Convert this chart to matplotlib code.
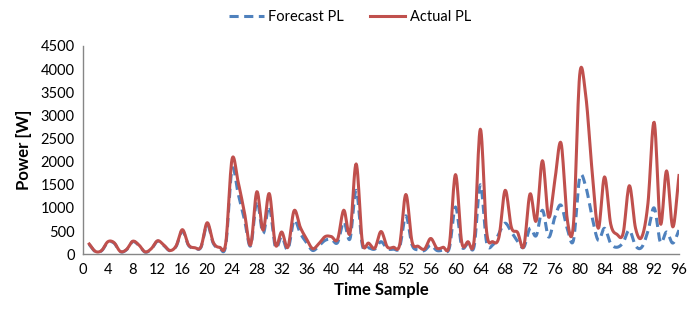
import matplotlib
matplotlib.use("Agg")
import matplotlib.pyplot as plt
import numpy as np

plt.rcParams['font.family'] = ['Lato', 'DejaVu Sans']

# time samples 1..96
samples = list(range(1, 97))

actual_pl = [220, 60, 80, 270, 250, 60, 100, 280, 200, 50,
             120, 290, 200, 80, 180, 530, 200, 140, 160, 680,
             250, 150, 250, 2050, 1550, 900, 200, 1350, 520, 1310,
             200, 480, 150, 940, 580, 330, 120, 230, 380, 380,
             320, 950, 450, 1950, 260, 240, 130, 490, 160, 150,
             200, 1290, 270, 170, 110, 340, 130, 150, 200, 1720,
             260, 270, 300, 2700, 500, 270, 370, 1380, 580, 470,
             170, 1300, 720, 2020, 800, 1600, 2400, 750, 650, 3870,
             3400, 1800, 560, 1670, 650, 430, 450, 1480, 560, 370,
             1100, 2850, 660, 1800, 590, 1700]

forecast_pl = [210, 55, 75, 260, 240, 55, 95, 270, 190, 45,
               110, 280, 190, 75, 170, 500, 190, 130, 150, 640,
               230, 130, 200, 1830, 1300, 750, 180, 1150, 450, 1030,
               150, 380, 100, 730, 450, 250, 80, 180, 300, 320,
               250, 700, 330, 1380, 190, 140, 110, 270, 120, 110,
               150, 830, 200, 90, 80, 200, 80, 90, 130, 1020,
               170, 230, 170, 1500, 260, 200, 450, 670, 480, 280,
               150, 560, 400, 950, 370, 800, 1060, 550, 300, 1650,
               1450, 800, 300, 560, 230, 150, 250, 520, 180, 150,
               500, 1000, 260, 480, 240, 520]

x_ticks = list(range(0, 97, 4))
y_ticks = list(range(0, 4501, 500))


def smooth(x, y, steps=12):
    # catmull-rom curve through the points, like excel "smoothed line"
    x = np.asarray(x, float)
    y = np.asarray(y, float)
    px = np.concatenate([[2 * x[0] - x[1]], x, [2 * x[-1] - x[-2]]])
    py = np.concatenate([[2 * y[0] - y[1]], y, [2 * y[-1] - y[-2]]])
    t = np.linspace(0, 1, steps, endpoint=False)
    xs, ys = [], []
    for i in range(1, len(px) - 2):
        for arr, out in ((px, xs), (py, ys)):
            p0, p1, p2, p3 = arr[i - 1], arr[i], arr[i + 1], arr[i + 2]
            out.extend(0.5 * (2 * p1 + (-p0 + p2) * t
                              + (2 * p0 - 5 * p1 + 4 * p2 - p3) * t ** 2
                              + (-p0 + 3 * p1 - 3 * p2 + p3) * t ** 3))
    xs.append(x[-1])
    ys.append(y[-1])
    return xs, ys


fig = plt.figure(figsize=(7, 3.1), dpi=100)
ax = fig.add_axes([0.1186, 0.18, 0.8514, 0.672])

fx, fy = smooth(samples, forecast_pl)
ax_x, ax_y = smooth(samples, actual_pl)
ax.plot(fx, fy, color='#4F81BD', lw=2.2, linestyle=(0, (3, 1.8)), label='Forecast PL')
ax.plot(ax_x, ax_y, color='#C0504D', lw=2.2, label='Actual PL')

ax.set_xlim(0, 96)
ax.set_ylim(0, 4500)
ax.set_xticks(x_ticks)
ax.set_yticks(y_ticks)
ax.tick_params(length=0, labelsize=10.5, pad=6)
for s in ['top', 'right']:
    ax.spines[s].set_visible(False)
for s in ['left', 'bottom']:
    ax.spines[s].set_color('#868686')
    ax.spines[s].set_linewidth(1)

ax.set_xlabel('Time Sample', fontsize=12, fontweight='bold', labelpad=4)
ax.set_ylabel('Power [W]', fontsize=12, fontweight='bold', labelpad=6)

fig.legend(loc='upper center', bbox_to_anchor=(0.5, 1.01), ncol=2, frameon=False,
           fontsize=10.5, handlelength=2.4, handletextpad=0.3, columnspacing=1.8)

fig.savefig('out.png', dpi=100)
